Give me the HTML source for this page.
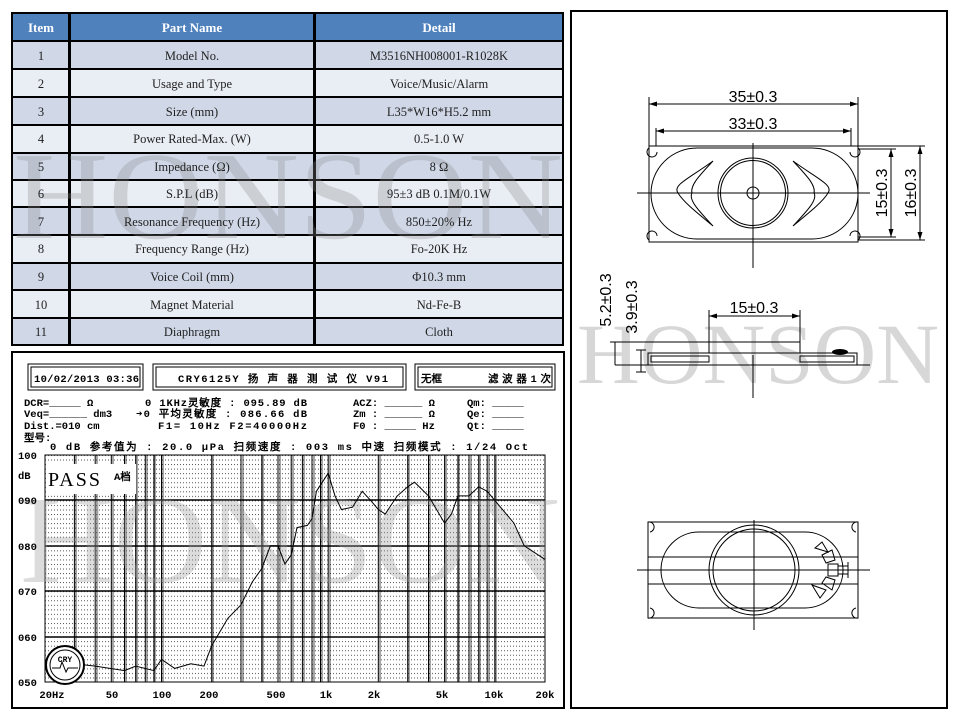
<!DOCTYPE html>
<html><head><meta charset="utf-8"><style>
html,body{margin:0;padding:0;background:#fff;}
svg{display:block}
.t{font-family:"Liberation Serif",serif;font-size:12.5px;fill:#222;text-anchor:middle}
.h{font-family:"Liberation Serif",serif;font-size:13px;font-weight:bold;fill:#fff;text-anchor:middle}
.m{font-family:"Liberation Mono","WenQuanYi Zen Hei",monospace;font-size:10.5px;font-weight:bold;fill:#000}
.d{font-family:"Liberation Sans",sans-serif;font-size:16px;fill:#000}
</style></head><body>
<svg width="960" height="720" viewBox="0 0 960 720" xmlns="http://www.w3.org/2000/svg">
<defs>
<pattern id="dots" x="45" y="455" width="3" height="4.54" patternUnits="userSpaceOnUse">
<rect x="0" y="0" width="1" height="1" fill="#555"/>
</pattern>
<clipPath id="tc"><rect x="11" y="41" width="553" height="305"/></clipPath>
<clipPath id="gc"><rect x="13" y="353" width="550" height="354"/></clipPath>
</defs>
<rect width="960" height="720" fill="#fff"/>

<!-- TABLE -->
<rect x="11" y="12" width="553" height="334" fill="#000"/>
<rect x="13" y="14" width="55" height="26" fill="#4f81bd"/>
<rect x="71" y="14" width="242" height="26" fill="#4f81bd"/>
<rect x="316" y="14" width="246" height="26" fill="#4f81bd"/>
<g id="rows">
<rect x="13" y="42" width="55" height="26" fill="#d0d8e8"/><rect x="71" y="42" width="242" height="26" fill="#d0d8e8"/><rect x="316" y="42" width="246" height="26" fill="#d0d8e8"/>
<rect x="13" y="70" width="55" height="26" fill="#e9edf4"/><rect x="71" y="70" width="242" height="26" fill="#e9edf4"/><rect x="316" y="70" width="246" height="26" fill="#e9edf4"/>
<rect x="13" y="98" width="55" height="26" fill="#d0d8e8"/><rect x="71" y="98" width="242" height="26" fill="#d0d8e8"/><rect x="316" y="98" width="246" height="26" fill="#d0d8e8"/>
<rect x="13" y="126" width="55" height="26" fill="#e9edf4"/><rect x="71" y="126" width="242" height="26" fill="#e9edf4"/><rect x="316" y="126" width="246" height="26" fill="#e9edf4"/>
<rect x="13" y="154" width="55" height="25" fill="#d0d8e8"/><rect x="71" y="154" width="242" height="25" fill="#d0d8e8"/><rect x="316" y="154" width="246" height="25" fill="#d0d8e8"/>
<rect x="13" y="181" width="55" height="25" fill="#e9edf4"/><rect x="71" y="181" width="242" height="25" fill="#e9edf4"/><rect x="316" y="181" width="246" height="25" fill="#e9edf4"/>
<rect x="13" y="208" width="55" height="26" fill="#d0d8e8"/><rect x="71" y="208" width="242" height="26" fill="#d0d8e8"/><rect x="316" y="208" width="246" height="26" fill="#d0d8e8"/>
<rect x="13" y="236" width="55" height="26" fill="#e9edf4"/><rect x="71" y="236" width="242" height="26" fill="#e9edf4"/><rect x="316" y="236" width="246" height="26" fill="#e9edf4"/>
<rect x="13" y="264" width="55" height="25" fill="#d0d8e8"/><rect x="71" y="264" width="242" height="25" fill="#d0d8e8"/><rect x="316" y="264" width="246" height="25" fill="#d0d8e8"/>
<rect x="13" y="291" width="55" height="26" fill="#e9edf4"/><rect x="71" y="291" width="242" height="26" fill="#e9edf4"/><rect x="316" y="291" width="246" height="26" fill="#e9edf4"/>
<rect x="13" y="319" width="55" height="25" fill="#d0d8e8"/><rect x="71" y="319" width="242" height="25" fill="#d0d8e8"/><rect x="316" y="319" width="246" height="25" fill="#d0d8e8"/>
</g>
<text x="288" y="238" clip-path="url(#tc)" font-family="Liberation Serif,serif" font-size="125" fill="#8a8a8a" fill-opacity="0.3" text-anchor="middle" textLength="550" lengthAdjust="spacingAndGlyphs">HONSON</text>
<text class="h" x="41" y="32">Item</text><text class="h" x="192" y="32">Part Name</text><text class="h" x="439" y="32">Detail</text>
<text class="t" x="41" y="60">1</text><text class="t" x="192" y="60">Model No.</text><text class="t" x="439" y="60">M3516NH008001-R1028K</text>
<text class="t" x="41" y="88">2</text><text class="t" x="192" y="88">Usage and Type</text><text class="t" x="439" y="88">Voice/Music/Alarm</text>
<text class="t" x="41" y="116">3</text><text class="t" x="192" y="116">Size (mm)</text><text class="t" x="439" y="116">L35*W16*H5.2 mm</text>
<text class="t" x="41" y="143">4</text><text class="t" x="192" y="143">Power Rated-Max. (W)</text><text class="t" x="439" y="143">0.5-1.0 W</text>
<text class="t" x="41" y="171">5</text><text class="t" x="192" y="171">Impedance (Ω)</text><text class="t" x="439" y="171">8 Ω</text>
<text class="t" x="41" y="198">6</text><text class="t" x="192" y="198">S.P.L (dB)</text><text class="t" x="439" y="198">95±3 dB   0.1M/0.1W</text>
<text class="t" x="41" y="226">7</text><text class="t" x="192" y="226">Resonance Frequency (Hz)</text><text class="t" x="439" y="226">850±20% Hz</text>
<text class="t" x="41" y="253">8</text><text class="t" x="192" y="253">Frequency Range (Hz)</text><text class="t" x="439" y="253">Fo-20K Hz</text>
<text class="t" x="41" y="281">9</text><text class="t" x="192" y="281">Voice Coil (mm)</text><text class="t" x="439" y="281">Φ10.3 mm</text>
<text class="t" x="41" y="309">10</text><text class="t" x="192" y="309">Magnet Material</text><text class="t" x="439" y="309">Nd-Fe-B</text>
<text class="t" x="41" y="336">11</text><text class="t" x="192" y="336">Diaphragm</text><text class="t" x="439" y="336">Cloth</text>

<!-- GRAPH -->
<rect x="12" y="352" width="552" height="356" fill="#fff" stroke="#000" stroke-width="2"/>
<g fill="none" stroke="#000">
<rect x="28" y="364" width="115" height="26" stroke-width="1"/><rect x="31" y="367" width="109" height="20" stroke-width="1"/>
<rect x="153" y="364" width="253" height="26" stroke-width="1"/><rect x="156" y="367" width="247" height="20" stroke-width="1"/>
<rect x="415" y="364" width="140" height="26" stroke-width="1"/><rect x="418" y="367" width="134" height="20" stroke-width="1"/>
</g>
<text class="m" x="34" y="382" font-size="11" textLength="105">10/02/2013 03:36</text>
<text class="m" x="178" y="382" font-size="11.5" textLength="210">CRY6125Y 扬 声 器 测 试 仪  V91</text>
<text class="m" x="421" y="382" font-size="12" font-weight="normal">无框</text>
<text class="m" x="488" y="382" font-size="12" font-weight="normal" textLength="63">滤波器1次</text>
<text class="m" x="24" y="406" font-size="11">DCR=_____ Ω</text>
<text class="m" x="24" y="417" font-size="11">Veq=______ dm3</text>
<text class="m" x="24" y="429" font-size="11">Dist.=010 cm</text>
<text class="m" x="24" y="441" font-size="12" font-weight="normal">型号:</text>
<text class="m" x="145" y="406" font-size="11.5" textLength="162">0 1KHz灵敏度 : 095.89 dB</text>
<text class="m" x="136" y="417" font-size="11.5" textLength="171">➜0 平均灵敏度 : 086.66 dB</text>
<text class="m" x="158" y="429" font-size="11" textLength="149">F1=   10Hz  F2=40000Hz</text>
<text class="m" x="353" y="406" font-size="11">ACZ: ______ Ω</text>
<text class="m" x="353" y="417" font-size="11">Zm : ______ Ω</text>
<text class="m" x="353" y="429" font-size="11">F0 : _____ Hz</text>
<text class="m" x="467" y="406" font-size="11">Qm: _____</text>
<text class="m" x="467" y="417" font-size="11">Qe: _____</text>
<text class="m" x="467" y="429" font-size="11">Qt: _____</text>
<text class="m" x="50" y="450" font-size="11.5" textLength="478">0 dB 参考值为 : 20.0 μPa   扫频速度 : 003 ms 中速  扫频模式 : 1/24 Oct</text>

<rect x="45" y="455" width="500" height="227" fill="url(#dots)"/>
<g stroke="#000" stroke-width="1" fill="none">
<rect x="45" y="455" width="500" height="227"/>
<path d="M45 500H545M45 546H545M45 591H545M45 637H545" stroke-width="1.5"/>
<path d="M74.4 455V682M95.2 455V682M111.3 455V682M124.5 455V682M135.7 455V682M145.3 455V682M153.9 455V682M161.5 455V682M211.7 455V682M241 455V682M261.8 455V682M278 455V682M291.2 455V682M302.4 455V682M312 455V682M320.5 455V682M328.2 455V682M378.3 455V682M407.7 455V682M428.5 455V682M444.6 455V682M457.9 455V682M469 455V682M478.7 455V682M487.2 455V682M494.8 455V682"/>
<path d="M76 455V682M97 455V682M113 455V682M126 455V682M137 455V682M147 455V682M155 455V682M163 455V682M213 455V682M243 455V682M263 455V682M280 455V682M293 455V682M304 455V682M314 455V682M322 455V682M330 455V682M380 455V682M409 455V682M430 455V682M446 455V682M459 455V682M471 455V682M480 455V682M489 455V682M496 455V682" stroke-width="0.7"/>
</g>
<text x="290" y="582" clip-path="url(#gc)" font-family="Liberation Serif,serif" font-size="125" fill="#9a9a9a" fill-opacity="0.35" text-anchor="middle" textLength="540" lengthAdjust="spacingAndGlyphs">HONSON</text>
<rect x="46" y="464" width="90" height="30" fill="#fff"/>
<text x="48" y="486" font-family="Liberation Serif,serif" font-size="20" letter-spacing="2" fill="#000">PASS</text>
<text x="114" y="480" class="m" font-weight="normal" font-size="10">A档</text>
<polyline fill="none" stroke="#000" stroke-width="1" points="61.2,659.3 74.4,663.8 95.2,666.1 124.5,670.6 135.7,666.1 153.9,670.6 161.5,659.3 174.7,668.4 190.9,663.8 204,666.1 211.7,645.7 227.8,618.4 241,604.8 252.2,582.1 261.8,568.5 270.4,545.8 278,545.8 284.9,563.9 291.2,554.9 297,527.6 307.4,525.4 312,518.6 316.4,491.3 328.2,473.2 335,495.9 341.4,509.5 352.5,507.2 362.2,491.3 370.7,500.4 378.3,509.5 385.2,514 397.3,495.9 407.7,486.8 414.5,482.2 428.5,495.9 444.6,523.1 451.5,514 457.9,495.9 469,495.9 478.7,486.8 487.2,491.3 494.8,500.4 513.9,523.1 524.2,545.8 545,559.4"/>
<circle cx="65" cy="665" r="19" fill="#fff" stroke="#000" stroke-width="2"/>
<circle cx="65" cy="665" r="15" fill="none" stroke="#000" stroke-width="1"/>
<text x="65" y="662" text-anchor="middle" font-family="Liberation Mono,monospace" font-size="8" font-weight="bold">CRY</text>
<path d="M52 668H60L62 662L66 672L68 668H78" fill="none" stroke="#000"/>
<text class="m" x="18" y="459" font-size="10">100</text>
<text class="m" x="18" y="479" font-size="10">dB</text>
<text class="m" x="18" y="504" font-size="10">090</text>
<text class="m" x="18" y="550" font-size="10">080</text>
<text class="m" x="18" y="595" font-size="10">070</text>
<text class="m" x="18" y="641" font-size="10">060</text>
<text class="m" x="18" y="686" font-size="10">050</text>
<g class="m" font-size="10.5">
<text x="52" y="698" text-anchor="middle">20Hz</text><text x="112" y="698" text-anchor="middle">50</text><text x="162" y="698" text-anchor="middle">100</text><text x="209" y="698" text-anchor="middle">200</text><text x="276" y="698" text-anchor="middle">500</text><text x="326" y="698" text-anchor="middle">1k</text><text x="374" y="698" text-anchor="middle">2k</text><text x="442" y="698" text-anchor="middle">5k</text><text x="494" y="698" text-anchor="middle">10k</text><text x="545" y="698" text-anchor="middle">20k</text>
</g>

<!-- RIGHT PANEL -->
<rect x="571" y="11" width="376" height="697" fill="#fff" stroke="#000" stroke-width="2"/>
<text x="758" y="383" font-family="Liberation Serif,serif" font-size="86" fill="#9a9a9a" fill-opacity="0.4" text-anchor="middle" textLength="362" lengthAdjust="spacingAndGlyphs">HONSON</text>
<g fill="none" stroke="#000" stroke-width="1">
<!-- top view -->
<path d="M649 146H858V242H649Z"/>
<rect x="651" y="148" width="207" height="91" rx="46" ry="45.5"/>
<path d="M649 148a5 5 0 1 0 8 4M858 148a5 5 0 1 1 -8 4M649 240a5 5 0 1 1 8 -4M858 240a5 5 0 1 0 -8 -4"/>
<path d="M637 193H870M753 143V268"/>
<circle cx="753" cy="193" r="35"/><circle cx="753" cy="193" r="32.5"/><circle cx="753" cy="193" r="6"/>
<path d="M713 161C690 178 672 185 678 193C684 203 700 215 713 226C700 212 688 200 692 193C690 185 700 175 713 161Z"/>
<path d="M793 161C816 178 834 185 828 193C822 203 806 215 793 226C806 212 818 200 814 193C816 185 806 175 793 161Z"/>
<path d="M649 97V146M858 97V146M656 128V146M851 128V146"/>
<path d="M649 104H858M656 131H851"/>
<path d="M858 146H925M858 240H925M858 149H896M858 237H896"/>
<path d="M891 149V237M920 146V240"/>
<!-- side view -->
<path d="M709 310V345M800 310V345M709 316H800"/>
<path d="M615 342H800V353M709 342V353"/>
<rect x="648" y="353" width="209" height="12"/>
<rect x="651" y="356" width="58" height="6"/>
<rect x="800" y="356" width="54" height="6"/>
<path d="M615 365H870M610 342H622M636 350H646M636 372H646M615 342V365M641 350V372"/>
<path d="M753 355V398"/>
<!-- bottom view -->
<path d="M648 522H858V618H648Z"/>
<path d="M648 522a5 5 0 1 1 2 10M858 522a5 5 0 1 0 -2 10M648 618a5 5 0 1 0 2 -10M858 618a5 5 0 1 1 -2 -10"/>
<rect x="661" y="532" width="182" height="76" rx="38" ry="38"/>
<path d="M648 557H858M648 584H858M637 570H870M754 520V630"/>
<circle cx="754" cy="570" r="45"/><circle cx="754" cy="570" r="41"/>
<path d="M815 548L822 542L828 552ZM812 585L820 598L826 590Z"/>
<path d="M822 555L832 550L835 560L826 563ZM822 583L832 590L835 580L826 577ZM828 564H838V576H828Z"/>
<path d="M838 566H848V574H838M848 562V578"/>
</g>
<g fill="#000">
<path d="M649 104l8 -2.5v5zM858 104l-8 -2.5v5zM656 131l8 -2.5v5zM851 131l-8 -2.5v5z"/>
<path d="M891 149l-2.5 8h5zM891 237l-2.5 -8h5zM920 146l-2.5 8h5zM920 240l-2.5 -8h5z"/>
<path d="M709 316l8 -2.5v5zM800 316l-8 -2.5v5z"/>
<ellipse cx="840" cy="352" rx="8" ry="3"/>
</g>
<text class="d" x="753" y="102" text-anchor="middle">35±0.3</text>
<text class="d" x="753" y="129" text-anchor="middle">33±0.3</text>
<text class="d" transform="translate(887 193) rotate(-90)" text-anchor="middle">15±0.3</text>
<text class="d" transform="translate(916 193) rotate(-90)" text-anchor="middle">16±0.3</text>
<text class="d" x="754" y="313" text-anchor="middle">15±0.3</text>
<text class="d" transform="translate(611 300) rotate(-90)" text-anchor="middle">5.2±0.3</text>
<text class="d" transform="translate(637 307) rotate(-90)" text-anchor="middle">3.9±0.3</text>
</svg>
</body></html>
